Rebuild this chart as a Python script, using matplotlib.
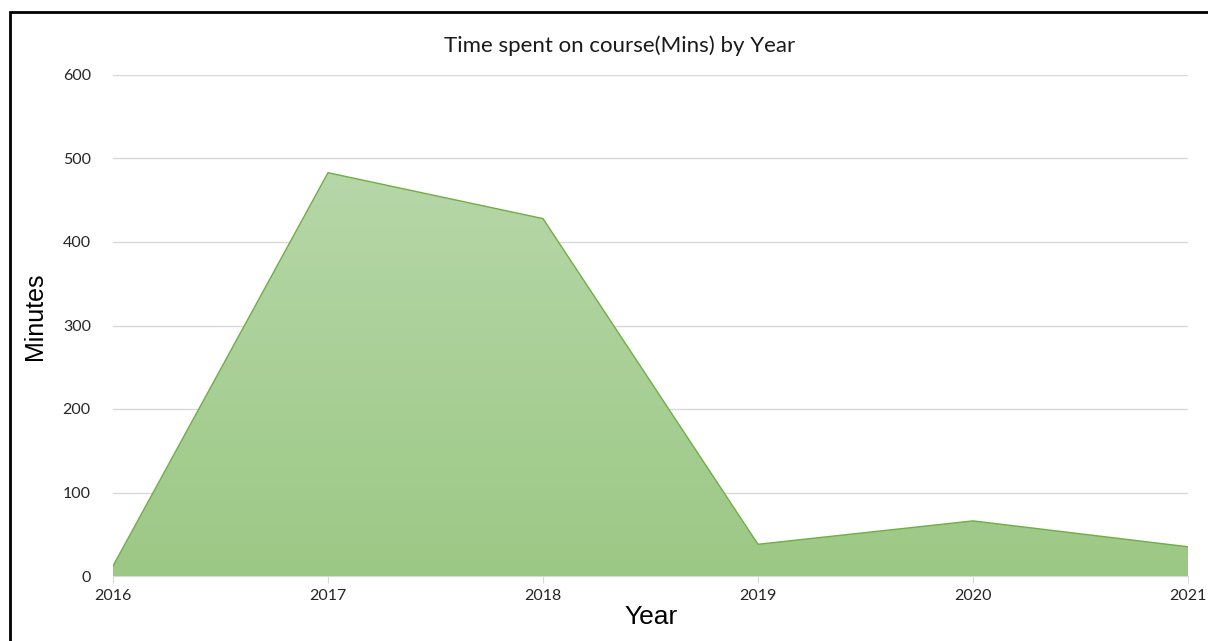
import numpy as np
import matplotlib.pyplot as plt
from matplotlib.colors import LinearSegmentedColormap
from matplotlib.patches import Rectangle

years = [2016, 2017, 2018, 2019, 2020, 2021]
minutes = [12, 483, 428, 38, 66, 35]

fig = plt.figure(figsize=(12.08, 6.41), dpi=100)
ax = fig.add_axes([113/1208, 65/641, (1188-113)/1208, (576-75)/641])

# gradient fill clipped to the area polygon
poly = ax.fill_between(years, minutes, 0, color='none', lw=0)
cmap = LinearSegmentedColormap.from_list('g', ['#9cc885', '#b6d7a8'])
grad = np.linspace(0, 1, 256).reshape(-1, 1)
im = ax.imshow(grad, cmap=cmap, origin='lower', aspect='auto',
               extent=[years[0], years[-1], 0, max(minutes)], zorder=2)
path = poly.get_paths()[0]
im.set_clip_path(path, transform=ax.transData)
ax.plot(years, minutes, color='#70ad47', lw=1, zorder=3)

ax.set_xlim(years[0], years[-1])
ax.set_ylim(0, 600)
ax.set_yticks(range(0, 601, 100))
ax.set_xticks(years)
ax.grid(axis='y', color='#d9d9d9', lw=1, zorder=0)
ax.set_axisbelow(True)
for s in ['top', 'right', 'left']:
    ax.spines[s].set_visible(False)
ax.spines['bottom'].set_color('#d9d9d9')
ax.spines['bottom'].set_zorder(1)
ax.tick_params(axis='y', length=0, pad=16, labelsize=11.5, labelcolor='#262626')
ax.tick_params(axis='x', length=5, color='#d9d9d9', pad=4, labelsize=11.5, labelcolor='#262626')
for lab in ax.get_xticklabels() + ax.get_yticklabels():
    lab.set_fontfamily('Lato')

fig.text(620/1208, 1 - 46/641, 'Time spent on course(Mins) by Year', ha='center', va='center',
         fontsize=16, family='Lato', color='#1a1a1a')
fig.text(35/1208, 1 - 316/641, 'Minutes', rotation=90, ha='center', va='center',
         fontsize=18, family='Liberation Sans')
fig.text(651/1208, 1 - 617/641, 'Year', ha='center', va='center',
         fontsize=19, family='Liberation Sans')

fig.patches.append(Rectangle((10/1208, -0.1), 1.2, 1 - 12/641 + 0.1, transform=fig.transFigure,
                             fill=False, ec='black', lw=2))

fig.savefig('out.png', dpi=100)
